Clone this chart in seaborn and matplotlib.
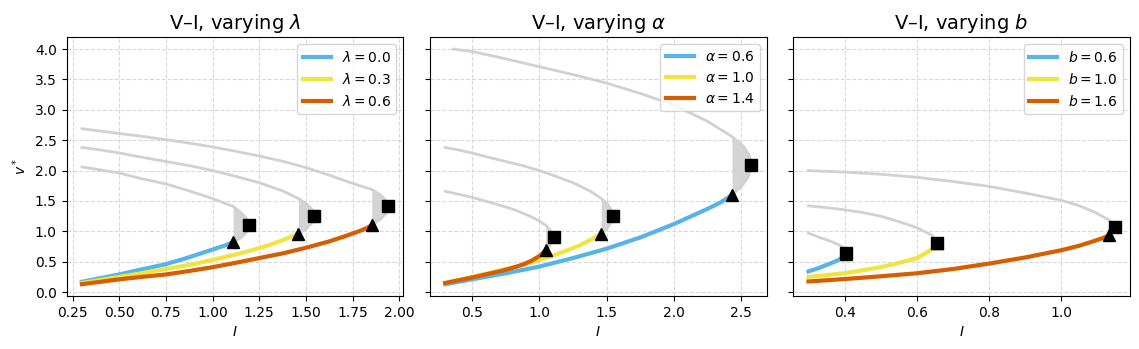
import numpy as np
import seaborn as sns
import matplotlib.pyplot as plt

colors = ['#56B4E9', '#F0E442', '#D55E00']

# ---- panel 1: varying lambda ----
lam_vals = [0.0, 0.3, 0.6]

lam0_lo_I = [0.30, 0.40, 0.50, 0.60, 0.75, 0.85, 0.93, 1.00, 1.06, 1.11]
lam0_lo_v = [0.17, 0.23, 0.29, 0.36, 0.46, 0.55, 0.63, 0.70, 0.76, 0.82]
lam0_up_I = [1.11, 1.155, 1.185, 1.195, 1.185, 1.155, 1.11, 1.00, 0.93, 0.85, 0.75, 0.60, 0.50, 0.40, 0.30]
lam0_up_v = [0.82, 0.90, 1.00, 1.10, 1.20, 1.30, 1.41, 1.54, 1.61, 1.69, 1.78, 1.88, 1.96, 2.01, 2.06]

lam3_lo_I = [0.30, 0.40, 0.50, 0.62, 0.75, 0.88, 1.00, 1.10, 1.20, 1.30, 1.38, 1.46]
lam3_lo_v = [0.15, 0.20, 0.25, 0.31, 0.38, 0.45, 0.53, 0.60, 0.68, 0.77, 0.86, 0.96]
lam3_up_I = [1.46, 1.505, 1.535, 1.545, 1.535, 1.505, 1.46, 1.38, 1.25, 1.13, 1.00, 0.88, 0.75, 0.62, 0.50, 0.40, 0.30]
lam3_up_v = [0.96, 1.05, 1.15, 1.25, 1.35, 1.45, 1.54, 1.66, 1.80, 1.90, 2.00, 2.08, 2.15, 2.22, 2.29, 2.34, 2.38]

lam6_lo_I = [0.30, 0.40, 0.50, 0.62, 0.75, 0.88, 1.00, 1.12, 1.25, 1.38, 1.50, 1.62, 1.70, 1.77, 1.82, 1.853]
lam6_lo_v = [0.13, 0.17, 0.21, 0.25, 0.29, 0.35, 0.41, 0.48, 0.56, 0.64, 0.73, 0.83, 0.91, 0.985, 1.045, 1.10]
lam6_up_I = [1.853, 1.90, 1.93, 1.94, 1.93, 1.90, 1.853, 1.75, 1.62, 1.50, 1.38, 1.25, 1.12, 1.00, 0.88, 0.75, 0.62, 0.50, 0.40, 0.30]
lam6_up_v = [1.10, 1.20, 1.30, 1.41, 1.50, 1.60, 1.69, 1.79, 1.93, 2.05, 2.15, 2.24, 2.32, 2.39, 2.45, 2.51, 2.565, 2.61, 2.65, 2.69]

lam_tri_I = [1.11, 1.46, 1.853]
lam_tri_v = [0.82, 0.96, 1.10]
lam_sq_I = [1.196, 1.544, 1.94]
lam_sq_v = [1.10, 1.25, 1.41]

# ---- panel 2: varying alpha ----
alp_vals = [0.6, 1.0, 1.4]

alp6_lo_I = [0.30, 0.50, 0.75, 1.00, 1.25, 1.50, 1.75, 2.00, 2.25, 2.35, 2.432]
alp6_lo_v = [0.13, 0.21, 0.31, 0.42, 0.56, 0.715, 0.90, 1.12, 1.37, 1.48, 1.60]
alp6_up_I = [2.432, 2.506, 2.553, 2.575, 2.56, 2.517, 2.432, 2.25, 2.00, 1.75, 1.50, 1.25, 1.00, 0.75, 0.50, 0.36]
alp6_up_v = [1.60, 1.75, 1.90, 2.09, 2.25, 2.40, 2.56, 2.81, 3.08, 3.27, 3.44, 3.58, 3.71, 3.84, 3.96, 4.00]

# alpha = 1.0 is the same curve as lambda = 0.3
alp10_lo_I, alp10_lo_v = lam3_lo_I, lam3_lo_v
alp10_up_I, alp10_up_v = lam3_up_I, lam3_up_v

alp14_lo_I = [0.30, 0.40, 0.50, 0.62, 0.72, 0.81, 0.88, 0.935, 0.99, 1.02, 1.047]
alp14_lo_v = [0.15, 0.195, 0.24, 0.30, 0.35, 0.405, 0.455, 0.51, 0.58, 0.63, 0.69]
alp14_up_I = [1.047, 1.072, 1.092, 1.10, 1.091, 1.073, 1.047, 1.00, 0.93, 0.81, 0.66, 0.50, 0.40, 0.30]
alp14_up_v = [0.69, 0.75, 0.82, 0.90, 0.98, 1.04, 1.10, 1.17, 1.25, 1.36, 1.46, 1.56, 1.61, 1.66]

alp_tri_I = [2.432, 1.46, 1.047]
alp_tri_v = [1.60, 0.96, 0.69]
alp_sq_I = [2.575, 1.544, 1.105]
alp_sq_v = [2.09, 1.25, 0.90]

# ---- panel 3: varying b ----
b_vals = [0.6, 1.0, 1.6]

b6_lo_I = [0.30, 0.33, 0.36, 0.38, 0.395, 0.403]
b6_lo_v = [0.34, 0.40, 0.47, 0.52, 0.57, 0.63]
b6_up_I = [0.403, 0.405, 0.40, 0.39, 0.36, 0.33, 0.30]
b6_up_v = [0.63, 0.66, 0.71, 0.76, 0.84, 0.90, 0.97]

b10_lo_I = [0.30, 0.35, 0.40, 0.45, 0.50, 0.55, 0.60, 0.63, 0.645, 0.655]
b10_lo_v = [0.25, 0.28, 0.31, 0.36, 0.41, 0.48, 0.56, 0.66, 0.73, 0.81]
b10_up_I = [0.655, 0.65, 0.64, 0.62, 0.60, 0.55, 0.50, 0.45, 0.40, 0.35, 0.30]
b10_up_v = [0.81, 0.88, 0.94, 1.00, 1.06, 1.16, 1.25, 1.31, 1.355, 1.39, 1.42]

b16_lo_I = [0.30, 0.40, 0.50, 0.60, 0.70, 0.80, 0.90, 1.00, 1.05, 1.09, 1.115, 1.131]
b16_lo_v = [0.175, 0.215, 0.26, 0.31, 0.38, 0.47, 0.57, 0.69, 0.765, 0.84, 0.89, 0.935]
b16_up_I = [1.131, 1.142, 1.147, 1.142, 1.128, 1.09, 1.05, 1.00, 0.90, 0.80, 0.70, 0.60, 0.50, 0.40, 0.30]
b16_up_v = [0.935, 1.00, 1.07, 1.13, 1.20, 1.32, 1.42, 1.51, 1.63, 1.74, 1.82, 1.89, 1.94, 1.975, 2.00]

b_tri_I = [0.403, 0.655, 1.131]
b_tri_v = [0.63, 0.81, 0.935]
b_sq_I = [0.405, 0.655, 1.147]
b_sq_v = [0.65, 0.815, 1.07]

panels = [
    ('$\\lambda$', lam_vals,
     [(lam0_lo_I, lam0_lo_v, lam0_up_I, lam0_up_v),
      (lam3_lo_I, lam3_lo_v, lam3_up_I, lam3_up_v),
      (lam6_lo_I, lam6_lo_v, lam6_up_I, lam6_up_v)],
     lam_tri_I, lam_tri_v, lam_sq_I, lam_sq_v),
    ('$\\alpha$', alp_vals,
     [(alp6_lo_I, alp6_lo_v, alp6_up_I, alp6_up_v),
      (alp10_lo_I, alp10_lo_v, alp10_up_I, alp10_up_v),
      (alp14_lo_I, alp14_lo_v, alp14_up_I, alp14_up_v)],
     alp_tri_I, alp_tri_v, alp_sq_I, alp_sq_v),
    ('$b$', b_vals,
     [(b6_lo_I, b6_lo_v, b6_up_I, b6_up_v),
      (b10_lo_I, b10_lo_v, b10_up_I, b10_up_v),
      (b16_lo_I, b16_lo_v, b16_up_I, b16_up_v)],
     b_tri_I, b_tri_v, b_sq_I, b_sq_v),
]

fig, axes = plt.subplots(1, 3, figsize=(11.39, 3.49), dpi=100, sharey=True)
plt.subplots_adjust(left=0.0585, right=0.992, top=0.893, bottom=0.152, wspace=0.079)

for ax, (sym, vals, curves, tri_I, tri_v, sq_I, sq_v) in zip(axes, panels):
    ax.grid(True, ls='--', color='0.85', lw=0.8)
    ax.set_axisbelow(True)
    # unstable / upper branch in grey, with the shaded bistable pocket
    for k, (lo_I, lo_v, up_I, up_v) in enumerate(curves):
        up_I_arr = np.array(up_I)
        ax.fill_betweenx(up_v, tri_I[k], up_I_arr, where=up_I_arr >= tri_I[k] - 1e-9,
                         color='0.83', lw=0, interpolate=True)
        sns.lineplot(x=up_I, y=up_v, sort=False, estimator=None, color='0.82', lw=2, ax=ax)
    # stable lower branch in colour
    for k, (lo_I, lo_v, up_I, up_v) in enumerate(curves):
        sym_txt = sym.strip('$')
        sns.lineplot(x=lo_I, y=lo_v, sort=False, estimator=None, color=colors[k], lw=3,
                     label=f'${sym_txt} = {vals[k]:.1f}$', ax=ax)
    ax.plot(tri_I, tri_v, '^', color='k', ms=8, zorder=5)
    ax.plot(sq_I, sq_v, 's', color='k', ms=8, zorder=5)
    ax.set_title(f'V–I, varying {sym}', fontsize=14)
    ax.set_xlabel('$I$')
    ax.legend(loc='upper right', fontsize=10)

axes[0].set_ylabel('$v^*$')
axes[0].set_yticks(np.arange(0, 4.01, 0.5))
axes[0].set_xticks([0.25, 0.50, 0.75, 1.00, 1.25, 1.50, 1.75, 2.00])

plt.savefig('out.png', dpi=100)
